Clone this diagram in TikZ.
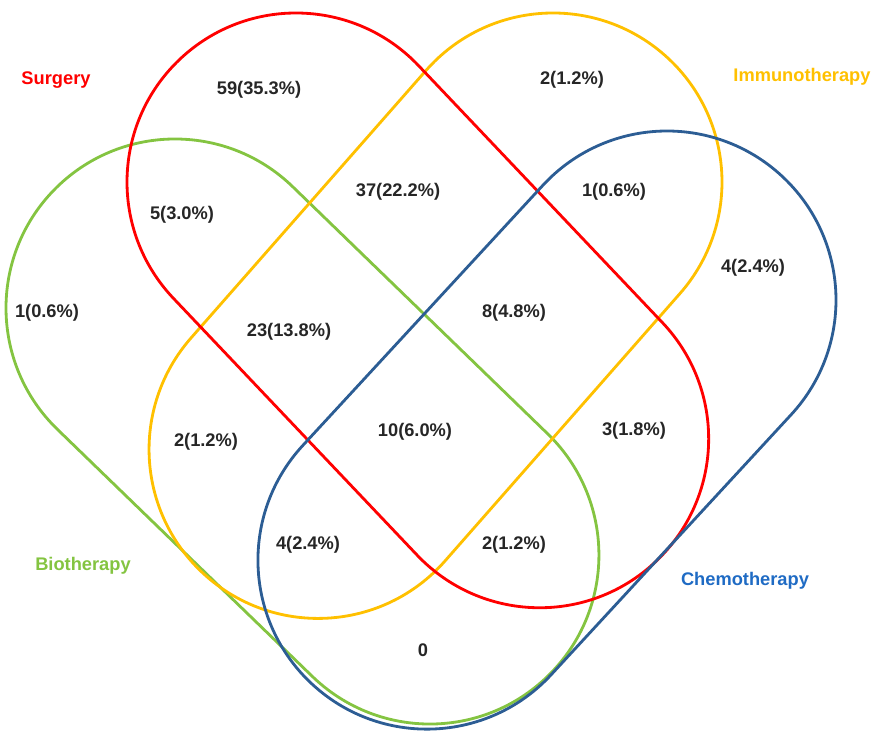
\documentclass[tikz,border=0pt]{standalone}
\usepackage{fontspec}
\setmainfont{Liberation Sans}
\definecolor{surg}{HTML}{FF0000}
\definecolor{immu}{HTML}{FFC000}
\definecolor{bio}{HTML}{84C441}
\definecolor{chemo}{HTML}{2C5D94}
\definecolor{chemotxt}{HTML}{1F6BC4}
\begin{document}
\begin{tikzpicture}[x=0.02cm,y=0.02cm,
    setline/.style={line width=1.6pt},
    count/.style={font=\fontsize{10.4}{12}\selectfont\bfseries,text=black!85},
    setname/.style={font=\fontsize{10.4}{12}\selectfont\bfseries}]
\useasboundingbox (0,0) rectangle (886,743);
% Biotherapy
\begin{scope}[shift={(175,435)},rotate=-44.1]
\draw[setline,bio] (0,-169) -- (355,-169) arc[start angle=-90,end angle=90,radius=169] -- (0,169) arc[start angle=90,end angle=270,radius=169] -- cycle;
\end{scope}
% Immunotherapy
\begin{scope}[shift={(553,561)},rotate=-131.3]
\draw[setline,immu] (0,-169) -- (356,-169) arc[start angle=-90,end angle=90,radius=169] -- (0,169) arc[start angle=90,end angle=270,radius=169] -- cycle;
\end{scope}
% Surgery
\begin{scope}[shift={(296,561)},rotate=-46.5]
\draw[setline,surg] (0,-169) -- (354,-169) arc[start angle=-90,end angle=90,radius=169] -- (0,169) arc[start angle=90,end angle=270,radius=169] -- cycle;
\end{scope}
% Chemotherapy
\begin{scope}[shift={(667,443)},rotate=-132.7]
\draw[setline,chemo] (0,-169) -- (354,-169) arc[start angle=-90,end angle=90,radius=169] -- (0,169) arc[start angle=90,end angle=270,radius=169] -- cycle;
\end{scope}
% set names
\node[setname,text=surg] (surgery) at (56,663) {Surgery};
\node[setname,text=immu] (immuno) at (802,666) {Immunotherapy};
\node[setname,text=bio] (biothe) at (83,177) {Biotherapy};
\node[setname,text=chemotxt] (chemoth) at (745,162) {Chemotherapy};
% counts
\node[count] (s) at (259,653) {59(35.3\%)};
\node[count] (i) at (572,663) {2(1.2\%)};
\node[count] (sb) at (182,528) {5(3.0\%)};
\node[count] (si) at (398,551) {37(22.2\%)};
\node[count] (ic) at (614,551) {1(0.6\%)};
\node[count] (b) at (47,430) {1(0.6\%)};
\node[count] (sbi) at (289,411) {23(13.8\%)};
\node[count] (sic) at (514,430) {8(4.8\%)};
\node[count] (c) at (753,475) {4(2.4\%)};
\node[count] (bi) at (206,301) {2(1.2\%)};
\node[count] (sbic) at (415,311) {10(6.0\%)};
\node[count] (sc) at (634,312) {3(1.8\%)};
\node[count] (bic) at (308,198) {4(2.4\%)};
\node[count] (sbc) at (514,198) {2(1.2\%)};
\node[count] (bc) at (423,93) {0};
\end{tikzpicture}
\end{document}
